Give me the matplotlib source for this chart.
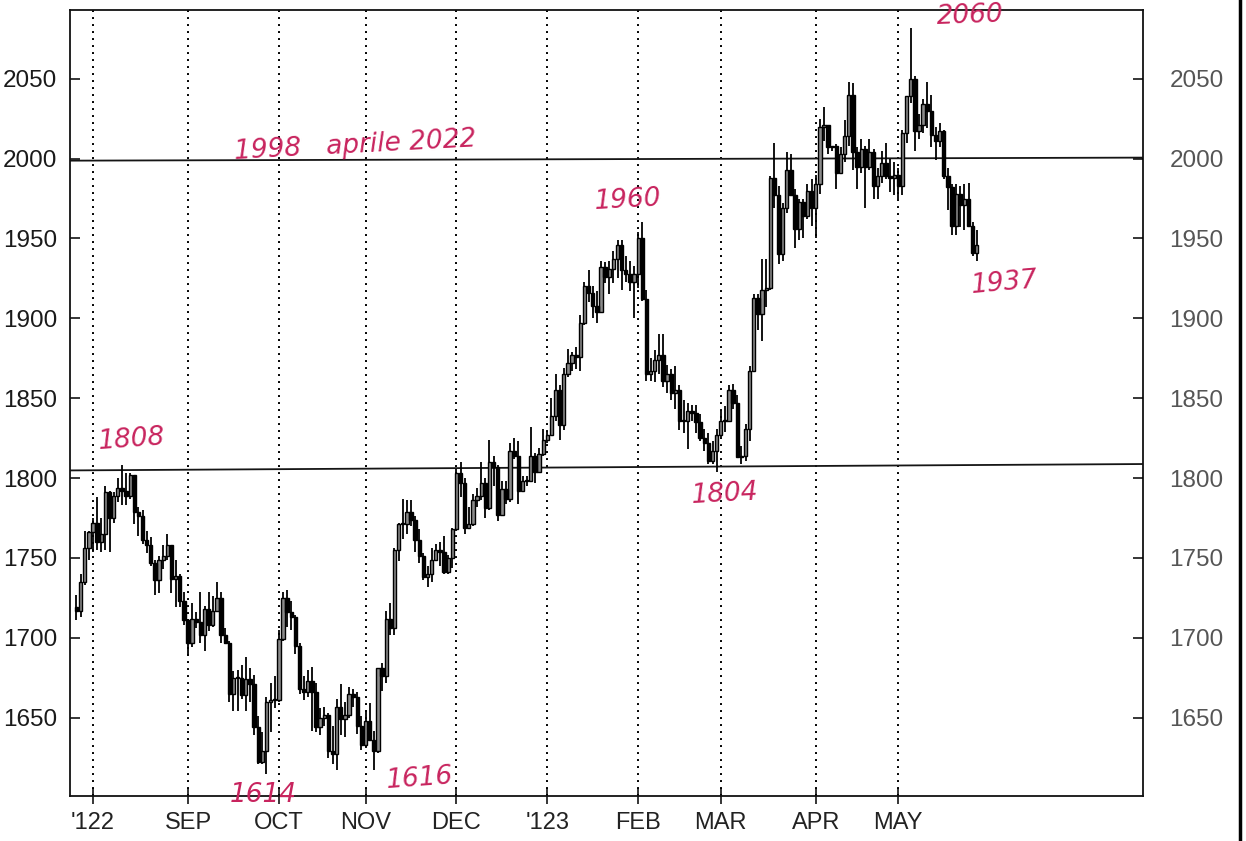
import numpy as np
import pandas as pd
import matplotlib
matplotlib.use("Agg")
import matplotlib.pyplot as plt
from matplotlib.lines import Line2D

plt.rcParams['font.family'] = ['Liberation Sans', 'DejaVu Sans']

# ---------------- data (daily gold, Jul 26 2022 .. May 26 2023, weekdays) -------------
start_date = '2022-07-26'

opens = [
    1719, 1717, 1735, 1756,
    1766, 1772, 1760, 1765, 1791, 1775, 1789, 1794, 1792, 1789, 1802, 1779, 1776, 1761, 1758, 1747, 1736, 1749, 1751, 1758, 1737, 1739, 1723,
    1711, 1697, 1712, 1710, 1702, 1718, 1708, 1717, 1725, 1702, 1697, 1665, 1675, 1675, 1664, 1674, 1671, 1644, 1622, 1629, 1660, 1661,
    1661, 1699, 1725, 1716, 1713, 1695, 1668, 1666, 1673, 1666, 1644, 1650, 1652, 1629, 1627, 1657, 1649, 1652, 1665, 1663, 1645,
    1633, 1648, 1636, 1629, 1681, 1676, 1712, 1706, 1755, 1771, 1771, 1779, 1774, 1761, 1751, 1738, 1740, 1749, 1755, 1754, 1741, 1750,
    1768, 1803, 1797, 1769, 1771, 1786, 1789, 1797, 1781, 1810, 1807, 1777, 1793, 1787, 1817, 1814, 1792, 1798, 1798, 1814, 1804, 1815,
    1824, 1827, 1839, 1855, 1833, 1865, 1872, 1877, 1876, 1897, 1920, 1916, 1908, 1904, 1932, 1926, 1931, 1937, 1946, 1930, 1928, 1923,
    1928, 1950, 1912, 1865, 1867, 1874, 1877, 1861, 1865, 1853, 1855, 1836, 1836, 1842, 1841, 1835, 1825, 1822, 1811, 1817,
    1827, 1836, 1836, 1855, 1847, 1813, 1814, 1831, 1867, 1913, 1903, 1918, 1919, 1988, 1977, 1940, 1969, 1993, 1977, 1956, 1973, 1964, 1980,
    1969, 1984, 2020, 2021, 2007, 2008, 1991, 2003, 2014, 2040, 2004, 1995, 2006, 1995, 2004, 1983, 1989, 1997, 1989, 1988,
    1990, 1983, 2016, 2039, 2050, 2017, 2021, 2034, 2030, 2015, 2011, 2017, 1989, 1982, 1958, 1978, 1971, 1975, 1958, 1941,
]
highs = [
    1727, 1740, 1767, 1767,
    1775, 1788, 1775, 1795, 1792, 1791, 1800, 1808, 1803, 1803, 1802, 1782, 1780, 1767, 1763, 1749, 1751, 1758, 1765, 1758, 1749, 1740, 1729,
    1712, 1722, 1716, 1729, 1720, 1729, 1726, 1735, 1729, 1706, 1698, 1679, 1680, 1683, 1688, 1681, 1677, 1651, 1641, 1663, 1672, 1676,
    1705, 1729, 1730, 1723, 1714, 1697, 1676, 1680, 1682, 1672, 1656, 1657, 1653, 1645, 1662, 1671, 1660, 1669, 1668, 1666, 1651,
    1655, 1659, 1642, 1681, 1684, 1717, 1722, 1756, 1772, 1787, 1786, 1786, 1776, 1768, 1753, 1745, 1756, 1759, 1760, 1764, 1752, 1769,
    1806, 1810, 1800, 1782, 1790, 1794, 1810, 1800, 1824, 1814, 1808, 1798, 1798, 1822, 1825, 1823, 1801, 1801, 1832, 1816, 1819, 1831,
    1829, 1850, 1865, 1858, 1869, 1881, 1879, 1882, 1902, 1923, 1930, 1920, 1917, 1936, 1935, 1936, 1942, 1949, 1949, 1939, 1936, 1933,
    1954, 1960, 1918, 1875, 1880, 1890, 1890, 1871, 1868, 1870, 1858, 1849, 1847, 1846, 1846, 1840, 1831, 1828, 1823, 1831,
    1842, 1845, 1858, 1859, 1852, 1820, 1834, 1870, 1915, 1915, 1937, 1937, 1989, 2010, 1983, 1972, 2004, 2003, 1981, 1975, 1975, 1984, 1987,
    1990, 2025, 2032, 2021, 2008, 2009, 2007, 2024, 2048, 2047, 2007, 2012, 2008, 2012, 2006, 1994, 2005, 2010, 2000, 1998,
    1994, 2018, 2039, 2082, 2052, 2028, 2037, 2048, 2040, 2020, 2022, 2018, 1994, 1984, 1984, 1983, 1984, 1985, 1960, 1955,
]
lows = [
    1711, 1713, 1733, 1749,
    1754, 1755, 1754, 1755, 1754, 1772, 1785, 1783, 1783, 1787, 1771, 1764, 1759, 1753, 1745, 1727, 1728, 1743, 1749, 1728, 1719, 1719, 1708,
    1689, 1694, 1706, 1697, 1692, 1704, 1707, 1717, 1697, 1696, 1660, 1654, 1654, 1662, 1654, 1660, 1639, 1621, 1621, 1615, 1641, 1656,
    1660, 1698, 1707, 1705, 1690, 1665, 1661, 1663, 1642, 1641, 1639, 1645, 1625, 1621, 1617, 1639, 1638, 1650, 1657, 1640, 1630,
    1631, 1636, 1617, 1628, 1667, 1672, 1702, 1702, 1748, 1762, 1765, 1770, 1754, 1747, 1736, 1732, 1735, 1748, 1745, 1740, 1740, 1744,
    1767, 1788, 1765, 1768, 1770, 1782, 1786, 1775, 1780, 1795, 1773, 1776, 1784, 1785, 1812, 1784, 1791, 1795, 1798, 1797, 1803, 1814,
    1822, 1827, 1836, 1824, 1830, 1863, 1867, 1868, 1867, 1896, 1910, 1900, 1897, 1904, 1922, 1915, 1922, 1925, 1918, 1923, 1917, 1900,
    1919, 1911, 1861, 1861, 1860, 1865, 1857, 1853, 1849, 1843, 1830, 1828, 1818, 1836, 1828, 1823, 1817, 1809, 1809, 1804,
    1826, 1829, 1835, 1843, 1813, 1809, 1811, 1823, 1867, 1893, 1886, 1907, 1918, 1969, 1934, 1936, 1966, 1977, 1944, 1949, 1950, 1962, 1958,
    1950, 1978, 2011, 2003, 2005, 1981, 1991, 1998, 2008, 1993, 1981, 1991, 1969, 1993, 1975, 1975, 1985, 1987, 1979, 1977,
    1975, 1977, 2010, 2035, 2005, 2012, 2016, 2019, 2007, 1999, 2007, 1987, 1968, 1952, 1952, 1957, 1955, 1957, 1939, 1936,
]
closes = [
    1717, 1735, 1756, 1766,
    1772, 1760, 1765, 1791, 1775, 1789, 1794, 1792, 1789, 1802, 1779, 1776, 1761, 1758, 1747, 1736, 1749, 1751, 1758, 1737, 1739, 1723, 1711,
    1697, 1712, 1710, 1702, 1718, 1708, 1717, 1725, 1702, 1697, 1665, 1675, 1675, 1664, 1674, 1671, 1644, 1622, 1629, 1660, 1661, 1661,
    1699, 1725, 1716, 1713, 1695, 1668, 1666, 1673, 1666, 1644, 1650, 1652, 1629, 1627, 1657, 1649, 1652, 1665, 1663, 1645, 1633,
    1648, 1636, 1629, 1681, 1676, 1712, 1706, 1755, 1771, 1771, 1779, 1774, 1761, 1751, 1738, 1740, 1749, 1755, 1754, 1741, 1750, 1768,
    1803, 1797, 1769, 1771, 1786, 1789, 1797, 1781, 1810, 1807, 1777, 1793, 1787, 1817, 1814, 1792, 1798, 1798, 1814, 1804, 1815, 1824,
    1827, 1839, 1855, 1833, 1865, 1872, 1877, 1876, 1897, 1920, 1916, 1908, 1904, 1932, 1926, 1931, 1937, 1946, 1930, 1928, 1923, 1928,
    1950, 1912, 1865, 1867, 1874, 1877, 1861, 1865, 1853, 1855, 1836, 1836, 1842, 1841, 1835, 1825, 1822, 1811, 1817, 1827,
    1836, 1836, 1855, 1847, 1813, 1814, 1831, 1867, 1913, 1903, 1918, 1919, 1988, 1977, 1940, 1969, 1993, 1977, 1956, 1973, 1964, 1980, 1969,
    1984, 2020, 2021, 2007, 2008, 1991, 2003, 2014, 2040, 2004, 1995, 2006, 1995, 2004, 1983, 1989, 1997, 1989, 1988, 1990,
    1983, 2016, 2039, 2050, 2017, 2021, 2034, 2030, 2015, 2011, 2017, 1989, 1982, 1958, 1978, 1971, 1975, 1958, 1941, 1946,
]

month_labels = ["'122", "SEP", "OCT", "NOV", "DEC", "'123", "FEB", "MAR", "APR", "MAY"]
price_ticks = [1650, 1700, 1750, 1800, 1850, 1900, 1950, 2000, 2050]
# hand-drawn ruler lines (value at left edge, value at right edge)
line_1998 = [1998.7, 2000.6]
line_1808 = [1804.8, 1808.8]

# handwritten notes: text, x pixel, y pixel, rotation
notes = [
    ("1998   aprile 2022", 355, 146, 3),
    ("1808", 132, 440, 4),
    ("1614", 263, 795, 0),
    ("1616", 420, 779, 4),
    ("1960", 628, 200, 3),
    ("1804", 725, 494, 3),
    ("2060", 970, 16, 2),
    ("1937", 1004, 283, 5),
]

# ---------------- figure ----------------
n = min(len(opens), len(highs), len(lows), len(closes))
o = np.array(opens[:n], float)
h = np.array(highs[:n], float)
l = np.array(lows[:n], float)
c = np.array(closes[:n], float)
h = np.maximum(h, np.maximum(o, c))
l = np.minimum(l, np.minimum(o, c))
dates = pd.bdate_range(start_date, periods=n)
x = np.arange(n)

W, H = 1246, 841
fig = plt.figure(figsize=(W / 100, H / 100), dpi=100)
fig.patch.set_facecolor('white')
left_px, right_px, top_px, bot_px = 70, 1143, 10, 796
ax = fig.add_axes([left_px / W, 1 - bot_px / H, (right_px - left_px) / W, (bot_px - top_px) / H])

# month ticks at first trading day of each month
month_idx = [i for i in range(1, n) if dates[i].month != dates[i - 1].month]
ppd = 4.13
x0 = month_idx[0] - (93 - left_px) / ppd
x1 = month_idx[0] + (right_px - 93) / ppd
ax.set_xlim(x0, x1)
ax.set_ylim(1601, 2093)

# dotted month lines
for mi in month_idx:
    ax.axvline(mi, color='black', lw=1.4, linestyle=(0, (1, 2.6)), zorder=1)

# ruler lines
ax.plot([x0, x1], line_1998, color='#151515', lw=1.3, zorder=1.5)
ax.plot([x0, x1], line_1808, color='#151515', lw=1.3, zorder=1.5)

# candles
up = c >= o
ax.vlines(x, l, h, color='black', lw=1.3, zorder=2)
ax.bar(x[up], np.maximum(c - o, 0.6)[up], bottom=o[up], width=0.8,
       color='#8a8a8a', edgecolor='black', linewidth=1.0, zorder=3)
ax.bar(x[~up], (o - c)[~up], bottom=c[~up], width=0.8,
       color='black', edgecolor='black', linewidth=1.0, zorder=3)

# axes styling
for sp in ax.spines.values():
    sp.set_linewidth(1.3)
    sp.set_color('#111111')

ax.set_xticks(month_idx[:len(month_labels)])
ax.set_xticklabels(month_labels[:len(month_idx)], fontsize=17, color='#222222')
ax.tick_params(axis='x', direction='inout', length=11, width=1.1, pad=6)

ax.set_yticks(price_ticks)
ax.set_yticklabels([str(v) for v in price_ticks], fontsize=17.5, color='#1a1a1a')
ax.tick_params(axis='y', direction='in', length=7, width=1.1, pad=9)

ax2 = ax.twinx()
ax2.set_ylim(ax.get_ylim())
ax2.set_yticks(price_ticks)
ax2.set_yticklabels([str(v) for v in price_ticks], fontsize=17.5, color='#555555')
ax2.tick_params(axis='y', direction='in', length=7, width=1.1, pad=19)
for sp in ax2.spines.values():
    sp.set_visible(False)

# handwritten annotations
for txt, px, py, rot in notes:
    fig.text(px / W, 1 - py / H, txt, color='#c8245e', fontsize=19,
             family=['DejaVu Sans'], style='italic', ha='center', va='center',
             rotation=rot, zorder=10)

# page edge line
fig.add_artist(Line2D([1240 / W, 1240 / W], [0, 1], color='black', lw=2.5,
                      transform=fig.transFigure))

fig.savefig('out.png', dpi=100, facecolor='white')
